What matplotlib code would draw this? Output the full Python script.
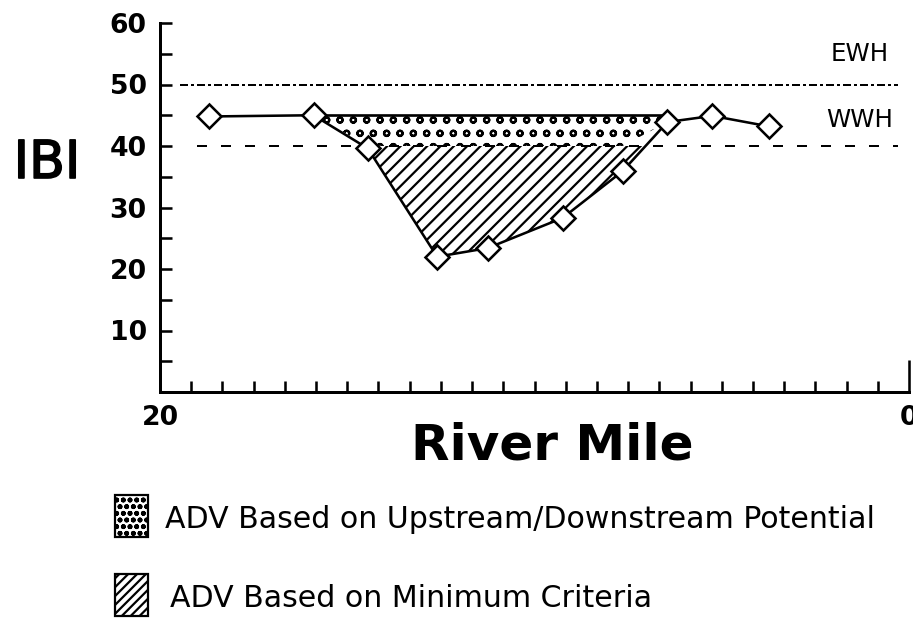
import numpy as np
import matplotlib as mpl
import matplotlib.pyplot as plt
import matplotlib.patches as patches
import matplotlib.patheffects as pe

# values
river_mile = [18.7, 15.9, 14.45, 12.6, 11.25, 9.25, 7.65, 6.45, 5.25, 3.75]
ibi = [44.8, 45.0, 39.6, 22.0, 23.4, 28.3, 35.9, 43.9, 44.9, 43.2]

EWH = 50        # exceptional warmwater habitat
WWH = 40        # warmwater habitat
POTENTIAL = 45  # upstream/downstream potential
adv_first, adv_last = 1, 7   # points bounding the ADV area

x_ticks = [20, 0]
y_ticks = [10, 20, 30, 40, 50, 60]
y_minor = [5, 15, 25, 35, 45, 55]
n_x_minor = 24

legend_labels = ['ADV Based on Upstream/Downstream Potential',
                 'ADV Based on Minimum Criteria']

#######################################################################
DPI = 80
W, H = 913, 624
mpl.rcParams['font.family'] = 'DejaVu Sans'
mpl.rcParams['hatch.linewidth'] = 2.0
mpl.rcParams['hatch.color'] = 'black'

fig = plt.figure(figsize=(W / DPI, H / DPI), dpi=DPI)
ax = fig.add_axes([160 / W, 1 - 392 / H, (909 - 160) / W, (392 - 23) / H])

x = np.array(river_mile[adv_first:adv_last + 1])
y = np.array(ibi[adv_first:adv_last + 1])

# ADV areas
ax.fill_between(x, np.maximum(y, WWH), POTENTIAL, facecolor='white',
                edgecolor='black', hatch='o', linewidth=0, zorder=2)
ax.fill_between(x, y, WWH, where=y < WWH, interpolate=True,
                facecolor='white', edgecolor='black', hatch='//',
                linewidth=0, zorder=2)
ax.hlines(POTENTIAL, river_mile[adv_first], river_mile[adv_last],
          color='black', lw=2.4, zorder=4)

# criteria lines
ax.hlines(EWH, 19.47, 0.3, color='black', lw=1.8,
          linestyle=(0, (4, 1.5, 1.5, 1.5)), zorder=3)
ax.hlines(WWH, 19.0, 0.3, color='black', lw=1.8,
          linestyle=(0, (5, 7)), zorder=3)

ax.plot(river_mile, ibi, color='black', lw=2.3, marker='D', ms=15,
        mfc='white', mec='black', mew=2.3, zorder=5)

ax.set_xlim(20, 0)
ax.set_ylim(0, 60)
ax.set_xticks(x_ticks)
ax.set_xticklabels([str(t) for t in x_ticks])
ax.set_xticks(np.linspace(0, 20, n_x_minor + 1), minor=True)
ax.set_yticks(y_ticks)
ax.set_yticks(y_minor, minor=True)
ax.tick_params(axis='x', which='major', direction='in', length=29,
               width=2.3, pad=12, labelsize=24)
ax.tick_params(axis='x', which='minor', direction='in', length=10,
               width=2.3)
ax.tick_params(axis='y', which='both', direction='in', length=11,
               width=2.3, pad=12, labelsize=24)
for lab in ax.get_xticklabels() + ax.get_yticklabels():
    lab.set_fontweight('bold')
for s in ['top', 'right']:
    ax.spines[s].set_visible(False)
for s in ['left', 'bottom']:
    ax.spines[s].set_linewidth(2.7)

fig.text(47 / W, 1 - 178 / H, 'IBI', fontsize=47, ha='center',
         va='baseline',
         path_effects=[pe.withStroke(linewidth=1.5, foreground='black')])
fig.text(552 / W, 1 - 460 / H, 'River Mile', fontsize=45,
         fontweight='bold', ha='center', va='baseline')
fig.text(860 / W, 1 - 61 / H, 'EWH', fontsize=22, ha='center',
         va='baseline')
fig.text(860 / W, 1 - 127 / H, 'WWH', fontsize=22, ha='center',
         va='baseline')

# legend
hatches = ['oo', '///']
for i, lab in enumerate(legend_labels):
    top = 495 + i * 79
    rect = patches.Rectangle((115 / W, 1 - (top + 42) / H), 33 / W, 42 / H,
                             transform=fig.transFigure, facecolor='white',
                             edgecolor='black', linewidth=2.0,
                             hatch=hatches[i])
    fig.add_artist(rect)
    fig.text((165 + 5 * i) / W, 1 - (top + 33) / H, lab, fontsize=27,
             ha='left', va='baseline')

plt.savefig('out.png', dpi=DPI)
plt.close('all')
